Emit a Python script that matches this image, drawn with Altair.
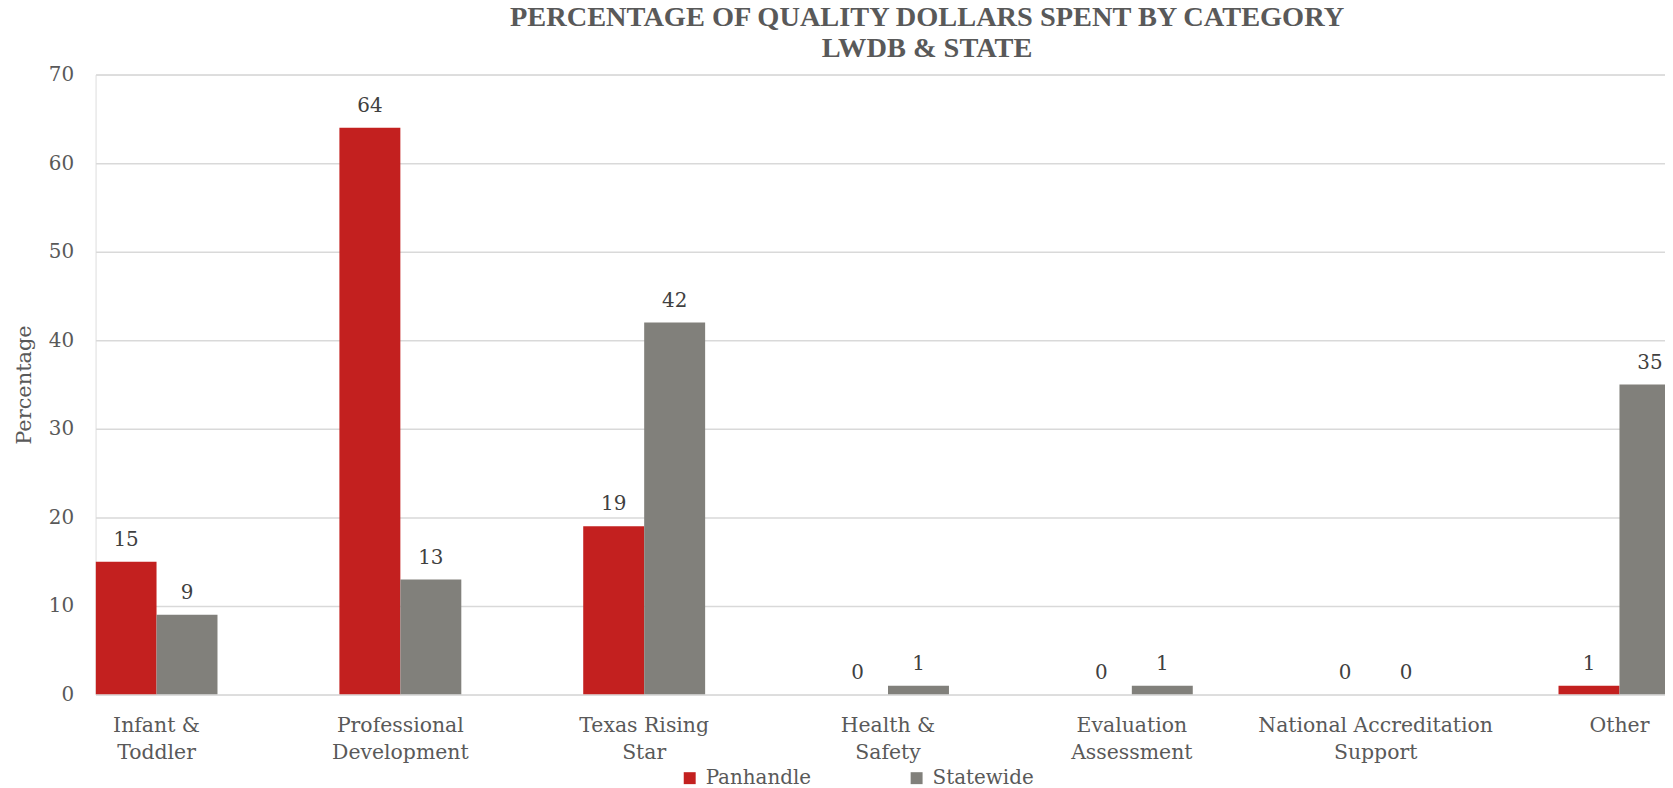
import altair as alt
import pandas as pd

categories = ["Infant &|Toddler", "Professional|Development", "Texas Rising|Star",
              "Health &|Safety", "Evaluation|Assessment", "National Accreditation|Support", "Other"]
series = ["Panhandle", "Statewide"]
panhandle = [15, 64, 19, 0, 0, 0, 1]
statewide = [9, 13, 42, 1, 1, 0, 35]
colors = ["#C3201F", "#81807B"]

rows = []
for c, p, s in zip(categories, panhandle, statewide):
    rows.append({"cat": c, "series": "Panhandle", "value": p})
    rows.append({"cat": c, "series": "Statewide", "value": s})
df = pd.DataFrame(rows)

FONT = "DejaVu Serif"
W, H = 1577, 623

x = alt.X("cat:N", sort=categories, title=None,
          scale=alt.Scale(range=[0, 1592.5], paddingInner=0.5, paddingOuter=0),
          axis=alt.Axis(labelExpr="split(datum.value, '|')", labelAngle=0, domain=False,
                        ticks=False, tickSize=0, labelPadding=21, labelFont=FONT,
                        labelFontSize=20.5, labelColor="#595959", labelLineHeight=27,
                        labelBaseline="top", grid=False, labelLimit=400))
xo = alt.XOffset("series:N", sort=series,
                 scale=alt.Scale(paddingInner=0, paddingOuter=0))
y = alt.Y("value:Q", title="Percentage",
          scale=alt.Scale(domain=[0, 70], nice=False),
          axis=alt.Axis(values=[0, 10, 20, 30, 40, 50, 60, 70], domain=False, ticks=False,
                        tickSize=0, labelPadding=22, labelFont=FONT, labelFontSize=20,
                        labelColor="#595959", gridColor="#D9D9D9", gridWidth=1.5,
                        titleFont=FONT, titleFontSize=21, titleFontWeight="normal",
                        titleColor="#595959", titleAngle=-90, titleX=-71, titleY=H / 2,
                        titleAlign="center", titleBaseline="middle"))
color = alt.Color("series:N", sort=series, title=None,
                  scale=alt.Scale(domain=series, range=colors),
                  legend=alt.Legend(orient="none", direction="horizontal", legendX=587,
                                    legendY=697, symbolType="square", symbolSize=144,
                                    symbolStrokeWidth=0, labelFont=FONT, labelFontSize=20,
                                    labelColor="#595959", labelOffset=6, columnPadding=95))

bars = alt.Chart(df).mark_bar(clip=True).encode(x=x, xOffset=xo, y=y, color=color)
labels = alt.Chart(df).mark_text(font=FONT, fontSize=20, color="#404040", dy=-22,
                                 baseline="middle").encode(
    x=alt.X("cat:N", sort=categories), xOffset=alt.XOffset("series:N", sort=series),
    y="value:Q", text="value:Q")

chart = alt.layer(bars, labels).properties(
    width=W, height=H,
    title=alt.TitleParams(["PERCENTAGE OF QUALITY DOLLARS SPENT BY CATEGORY", "LWDB & STATE"],
                          font="Liberation Serif", fontSize=28.5, fontWeight="bold",
                          color="#595959", lineHeight=31, anchor="middle", frame="group",
                          dx=47, dy=38.5, offset=18, baseline="alphabetic"),
    autosize=alt.AutoSizeParams(type="none"),
    padding={"left": 88, "top": 65, "right": 0, "bottom": 92},
).configure_view(stroke=None).configure(background="white")

chart.save("out.html", embed_options={"renderer": "svg", "actions": False})
